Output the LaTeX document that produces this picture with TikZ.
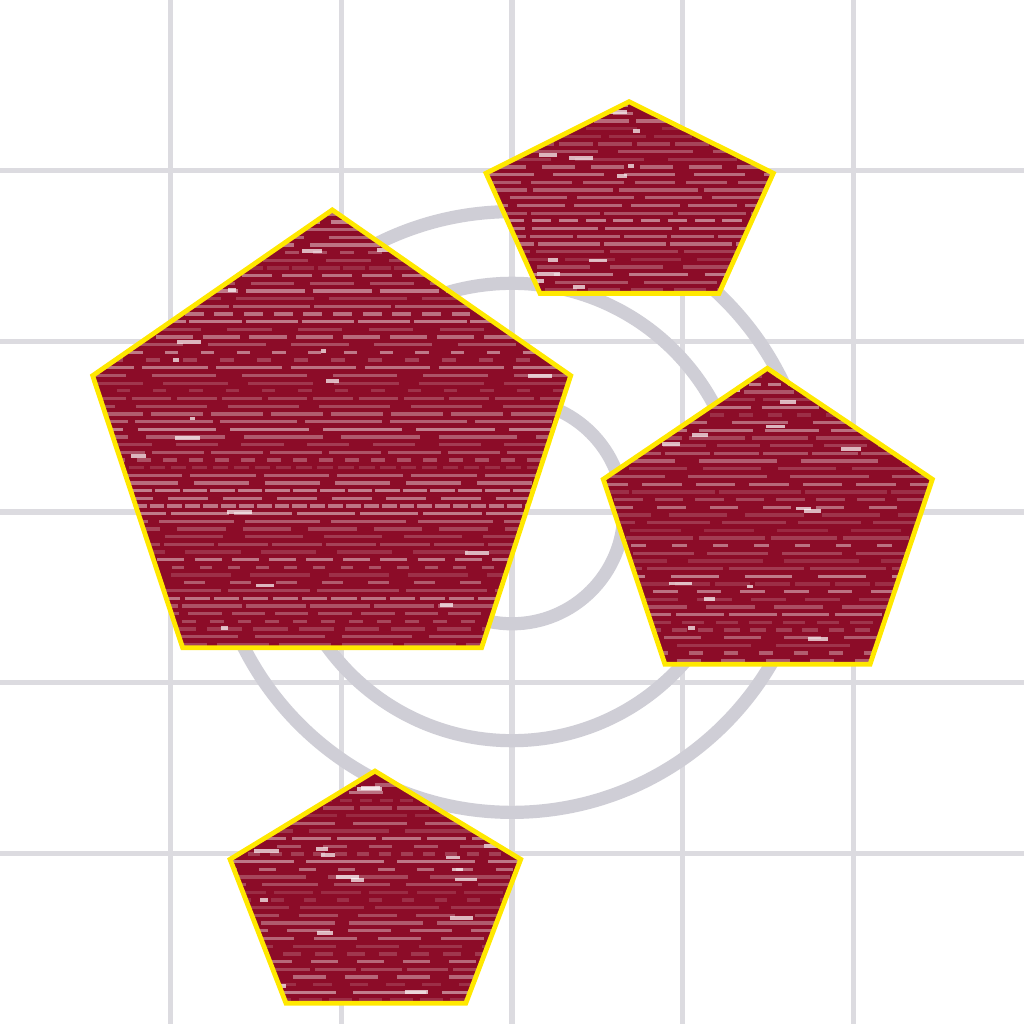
\documentclass[tikz,border=0pt]{standalone}
\usepackage{tikz}

\definecolor{grisgrille}{RGB}{220,219,224}
\definecolor{grisanneau}{RGB}{207,206,214}
\definecolor{bordeaux}{RGB}{140,12,40}
\definecolor{jaune}{RGB}{255,232,0}

\tikzset{
  gridline/.style={grisgrille, line width=0.9pt},
  ring/.style={grisanneau, line width=2.2pt},
  pentaedge/.style={jaune, line width=0.8pt, line join=miter},
  streak/.style={white, line width=0.55pt},
  speck/.style={white, opacity=0.7}
}

% pentagone a texture crayon :
% #1,#2 sommet ; #3,#4 x gauche/droite et #5 y du haut ; #6,#7 x et #8 y du bas
\newcommand{\pentacrayon}[8]{%
  \fill[bordeaux] (#1,#2) -- (#3,#5) -- (#6,#8) -- (#7,#8) -- (#4,#5) -- cycle;
  \begin{scope}
    \clip (#1,#2) -- (#3,#5) -- (#6,#8) -- (#7,#8) -- (#4,#5) -- cycle;
    \foreach \k in {0,...,58} {
      \pgfmathsetmacro\yy{#8+0.02+0.045*\k}
      \pgfmathsetmacro\op{0.12+0.35*rnd}
      \pgfmathsetmacro\da{2+12*rnd}
      \pgfmathsetmacro\db{0.5+4*rnd}
      \pgfmathsetmacro\ph{10*rnd}
      \draw[streak, opacity=\op, dash pattern=on \da pt off \db pt, dash phase=\ph pt]
        (#3,\yy) -- (#4,\yy);
    }
    \foreach \k in {1,...,22} {
      \pgfmathsetmacro\xa{#3+rnd*(#4-#3)}
      \pgfmathsetmacro\yb{#8+rnd*(#2-#8)}
      \fill[speck] (\xa,\yb) rectangle ++(0.03+0.12*rnd,0.022);
    }
  \end{scope}
  \draw[pentaedge] (#1,#2) -- (#3,#5) -- (#6,#8) -- (#7,#8) -- (#4,#5) -- cycle;
}

\begin{document}
\begin{tikzpicture}
    \pgfmathsetseed{4242}
    \useasboundingbox (0,0) rectangle (6,6);
    \fill[white] (0,0) rectangle (6,6);

    % Quadrillage
    \foreach \i in {1,...,5} {
        \draw[gridline] (\i,0) -- (\i,6);
        \draw[gridline] (0,\i) -- (6,\i);
    }

    % Anneaux concentriques
    \draw[ring] (3,3) circle (0.655);
    \draw[ring] (3,3) circle (1.34);
    \draw[ring] (3,3) circle (1.76);

    % Pentagones
    \pentacrayon{1.947}{4.770}{0.543}{3.344}{3.799}{1.070}{2.822}{2.205}
    \pentacrayon{3.686}{5.404}{2.848}{4.531}{4.985}{3.164}{4.213}{4.281}
    \pentacrayon{4.496}{3.842}{3.535}{5.463}{3.192}{3.896}{5.098}{2.108}
    \pentacrayon{2.197}{1.482}{1.348}{3.051}{0.965}{1.676}{2.729}{0.121}
\end{tikzpicture}
\end{document}
